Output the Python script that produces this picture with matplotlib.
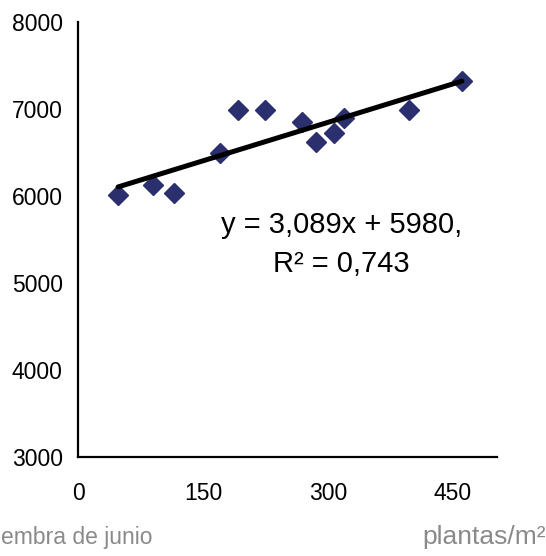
import matplotlib
matplotlib.use('Agg')
import matplotlib.pyplot as plt
import numpy as np

plt.rcParams['font.family'] = ['Liberation Sans', 'DejaVu Sans']

plantas = [48, 90, 115, 170, 192, 224, 269, 286, 307, 320, 397, 461]
rendimiento = [6010, 6125, 6035, 6495, 6990, 6990, 6850, 6620, 6725, 6895, 6990, 7330]
eq_text = 'y = 3,089x + 5980,\nR² = 0,743'
xticks = [0, 150, 300, 450]
yticks = [3000, 4000, 5000, 6000, 7000, 8000]

fig = plt.figure(figsize=(5.46, 5.56), dpi=100)
ax = fig.add_axes([0.143, 0.178, 0.767, 0.782])

ax.plot(plantas, rendimiento, 'D', color='#2B2F6E', markersize=10, zorder=2)

# linear trend line
coef = np.polyfit(plantas, rendimiento, 1)
xs = np.array([min(plantas), max(plantas)])
ax.plot(xs, np.polyval(coef, xs), color='black', linewidth=3.6,
        solid_capstyle='round', zorder=3)

ax.text(316, 5440, eq_text, ha='center', va='center', fontsize=21,
        linespacing=1.5)

ax.set_xlim(0, 503)
ax.set_ylim(3000, 8000)
ax.set_xticks(xticks)
ax.set_yticks(yticks)
ax.tick_params(length=0, labelsize=16.5)
ax.tick_params(axis='y', pad=11)
ax.tick_params(axis='x', pad=18)
for s in ['top', 'right']:
    ax.spines[s].set_visible(False)
for s in ['left', 'bottom']:
    ax.spines[s].set_linewidth(1.6)

fig.text(1 / 546, 1 - 544 / 556, 'embra de junio', ha='left',
         va='baseline', fontsize=16.5, color='#8a8a8a')
fig.text(1.0, 1 - 544 / 556, 'plantas/m²', ha='right',
         va='baseline', fontsize=19, color='#8a8a8a')

fig.savefig('out.png', dpi=100)
